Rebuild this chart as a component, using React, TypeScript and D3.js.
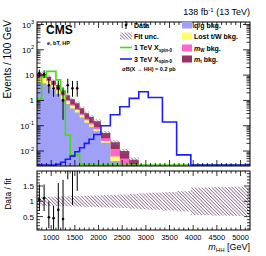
import React from 'react';
import * as d3 from 'd3';

// bin edges in GeV (variable binning, contents are events / 100 GeV)
const binEdges = [700, 800, 900, 1000, 1100, 1200, 1300, 1400, 1500, 1600, 1700, 1800, 1900, 2050, 2250, 2450, 2650, 2850, 3050, 3350, 3650, 3950, 4400, 4800, 5200];

const qgBkg = [5.0, 4.8, 3.9, 2.7, 1.85, 1.15, 0.72, 0.48, 0.33, 0.21, 0.13, 0.09, 0.06, 0.021, 0.004, 0.001, 0, 0, 0, 0, 0, 0, 0, 0];
const lostTWBkg = [3.5, 3.0, 2.0, 1.2, 0.7, 0.4, 0.22, 0.14, 0.09, 0.055, 0.035, 0.022, 0.014, 0.004, 0.002, 0.001, 0.0003, 0, 0, 0, 0, 0, 0, 0];
const mWBkg = [0.5, 0.5, 0.4, 0.3, 0.2, 0.15, 0.1, 0.07, 0.05, 0.035, 0.025, 0.018, 0.013, 0.007, 0.006, 0.003, 0.0012, 0.0006, 0.0003, 0, 0, 0, 0, 0];
const mtBkg = [3.0, 2.7, 2.4, 1.8, 1.35, 0.9, 0.56, 0.41, 0.3, 0.19, 0.12, 0.09, 0.063, 0.02, 0.01, 0.005, 0.003, 0.0014, 0.0007, 0.0003, 0, 0, 0, 0];
const fitUnc = [0.15, 0.15, 0.15, 0.15, 0.15, 0.16, 0.16, 0.17, 0.17, 0.18, 0.18, 0.19, 0.19, 0.2, 0.21, 0.22, 0.24, 0.26, 0.28, 0.3, 0.33, 0.45, 0.47, 0.48];

const sig1TeV = [1.2, 9, 14, 14, 6.5, 2.4, 0.043, 0.007, 0.007, 0.003, 0, 0, 0, 0, 0, 0, 0, 0, 0, 0, 0, 0, 0, 0];
const sig3TeV = [0, 0, 0, 0, 0.003, 0.0036, 0.0047, 0.0063, 0.0094, 0.0135, 0.02, 0.029, 0.045, 0.1, 0.27, 0.56, 1.2, 2.2, 1.3, 0.14, 0.007, 0, 0, 0];

// data points (bin centres)
const dataMass = [750, 850, 950, 1050, 1150, 1250, 1350, 1450, 1550];
const dataVal = [12, 11, 4, 3, 3, 1, 4, 3, 3];
const dataLo = [8.6, 7.7, 1.9, 1.4, 1.4, 0.17, 1.9, 1.4, 1.4];
const dataHi = [16.5, 15.4, 7.2, 5.9, 5.9, 3.3, 7.2, 5.9, 5.9];

// data / fit
const ratioVal = [1.05, 1.1, 0.48, 0.45, 0.72, 0.42, 2.5, 2.5, 2.5];
const ratioLo = [0.68, 0.68, 0.12, 0.07, 0.08, 0.08, 1.72, 0.88, 1.34];
const ratioHi = [1.55, 1.55, 1.0, 0.85, 1.6, 1.7, 3, 3, 3];

const xTicks = [1000, 1500, 2000, 2500, 3000, 3500, 4000, 4500, 5000];
const yDecades = [-2, -1, 0, 1, 2, 3];
const ratioTicks = [0.5, 1, 1.5];

const FONT = 'Liberation Sans, Arial, sans-serif';
const xL = 37, xR = 250;
const upT = 22, upB = 166;
const loT = 171, loB = 230;

const x = d3.scaleLinear().domain([700, 5200]).range([xL, xR]);
const yUp = d3.scaleLog().domain([10 ** -2.593, 10 ** 3.1]).range([upB, upT]);
const yLo = d3.scaleLinear().domain([0.062, 1.99]).range([loB, loT]);

const colQG = '#a0a0f6';
const colTW = '#ffff66';
const colMW = '#ff66cc';
const colMT = '#993366';
const colG = '#44dd11';
const colB = '#1c1cff';

const fy = (v: number) => (v > 0 ? Math.min(yUp(v), upB + 2) : upB + 2);
const ly = (v: number) => (v > 0 ? Math.min(yUp(v), upB - 1) : upB - 1);

function fillPath(vals: number[]) {
  let p = `M${x(binEdges[0])},${upB + 2}`;
  vals.forEach((v, i) => {
    p += `V${fy(v)}H${x(binEdges[i + 1])}`;
  });
  return p + `V${upB + 2}Z`;
}

function linePath(vals: number[]) {
  let p = '';
  vals.forEach((v, i) => {
    p += (i === 0 ? `M${x(binEdges[0])},${ly(v)}` : `V${ly(v)}`) + `H${x(binEdges[i + 1])}`;
  });
  return p;
}

function Ticks({ top, bottom, ratio }: { top: number; bottom: number; ratio: boolean }) {
  const lines: JSX.Element[] = [];
  const maj = ratio ? 5 : 6;
  const mi = ratio ? 2.5 : 3;
  for (let m = 800; m < 5200; m += 100) {
    const len = m % 500 === 0 ? maj : mi;
    const xx = x(m);
    lines.push(<line key={'b' + m} x1={xx} x2={xx} y1={bottom} y2={bottom - len} />);
    lines.push(<line key={'t' + m} x1={xx} x2={xx} y1={top} y2={top + len} />);
  }
  if (!ratio) {
    for (let d = -3; d <= 3; d++) {
      for (let k = 1; k <= 9; k++) {
        const v = k * 10 ** d;
        const yy = yUp(v);
        if (yy < top || yy > bottom) continue;
        const len = k === 1 ? 7 : 3.5;
        lines.push(<line key={'l' + d + k} x1={xL} x2={xL + len} y1={yy} y2={yy} />);
        lines.push(<line key={'r' + d + k} x1={xR} x2={xR - len} y1={yy} y2={yy} />);
      }
    }
  } else {
    for (let i = 1; i <= 19; i++) {
      const yy = yLo(i / 10);
      const len = i % 5 === 0 ? 6 : 3;
      lines.push(<line key={'l' + i} x1={xL} x2={xL + len} y1={yy} y2={yy} />);
      lines.push(<line key={'r' + i} x1={xR} x2={xR - len} y1={yy} y2={yy} />);
    }
  }
  return <g stroke="#000" strokeWidth={0.8}>{lines}</g>;
}

export default function App() {
  const cum1 = qgBkg;
  const cum2 = cum1.map((v, i) => v + lostTWBkg[i]);
  const cum3 = cum2.map((v, i) => v + mWBkg[i]);
  const total = cum3.map((v, i) => v + mtBkg[i]);

  return (
    <svg width={266} height={256} style={{ position: 'absolute', left: 0, top: 0, background: '#fff' }} fontFamily={FONT}>
      <defs>
        <pattern id="hatch" patternUnits="userSpaceOnUse" width={2.4} height={2.4} patternTransform="rotate(-45)">
          <line x1={0} y1={0} x2={0} y2={2.4} stroke="#85638a" strokeWidth={1.5} />
        </pattern>
        <clipPath id="clipUp">
          <rect x={xL} y={upT} width={xR - xL} height={upB - upT} />
        </clipPath>
        <clipPath id="clipLo">
          <rect x={xL} y={loT} width={xR - xL} height={loB - loT} />
        </clipPath>
      </defs>

      {/* upper pad */}
      <g clipPath="url(#clipUp)">
        <path d={fillPath(total)} fill={colMT} />
        <path d={fillPath(cum3)} fill={colMW} />
        <path d={fillPath(cum2)} fill={colTW} />
        <path d={fillPath(cum1)} fill={colQG} />
        {total.map((t, i) =>
          t > 0 ? (
            <rect
              key={i}
              x={x(binEdges[i])}
              width={x(binEdges[i + 1]) - x(binEdges[i])}
              y={fy(t * (1 + fitUnc[i]))}
              height={Math.max(0, fy(t * (1 - fitUnc[i])) - fy(t * (1 + fitUnc[i])))}
              fill="url(#hatch)"
              opacity={0.8}
            />
          ) : null
        )}
        <path d={linePath(sig1TeV)} fill="none" stroke={colG} strokeWidth={1.6} />
        <path d={linePath(sig3TeV)} fill="none" stroke={colB} strokeWidth={1.6} />
        <g stroke="#000" strokeWidth={1} fill="#000">
          {dataMass.map((m, i) => (
            <g key={m}>
              <line x1={x(m)} x2={x(m)} y1={yUp(dataHi[i])} y2={yUp(dataLo[i])} />
              <circle cx={x(m)} cy={yUp(dataVal[i])} r={1.3} stroke="none" />
            </g>
          ))}
        </g>
      </g>
      <Ticks top={upT} bottom={upB} ratio={false} />
      <rect x={xL} y={upT} width={xR - xL} height={upB - upT} fill="none" stroke="#000" strokeWidth={1} />

      {yDecades.map((d) => (
        <text key={d} x={34} y={yUp(10 ** d) + 3} fontSize={8} textAnchor="end">
          {d === 0 ? '1' : d === 1 ? '10' : (
            <>
              10<tspan dy={-3.5} fontSize={5.5}>{d}</tspan>
            </>
          )}
        </text>
      ))}
      <text transform="translate(11,20) rotate(-90)" fontSize={10} textAnchor="end">Events / 100 GeV</text>

      {/* CMS label and lumi */}
      <text x={46} y={34} fontSize={12} fontWeight="bold">CMS</text>
      <text x={47} y={45} fontSize={5.5} fontWeight="bold">e, bT, HP</text>
      <text x={250} y={15} fontSize={9} textAnchor="end">
        138 fb<tspan dy={-3.5} fontSize={6}>-1</tspan><tspan dy={3.5}> (13 TeV)</tspan>
      </text>

      {/* legend */}
      <g fontSize={7} fontWeight="bold">
        <line x1={126} x2={126} y1={21} y2={29} stroke="#000" strokeWidth={1} />
        <circle cx={126} cy={25} r={1.3} />
        <text x={134} y={27.5}>Data</text>
        <rect x={120} y={32.5} width={12} height={7} fill="url(#hatch)" />
        <text x={134} y={38.5}>Fit unc.</text>
        <line x1={120} x2={132} y1={47.5} y2={47.5} stroke={colG} strokeWidth={1.6} />
        <text x={134} y={50}>1 TeV X<tspan dy={1.5} fontSize={4.5}>spin-0</tspan></text>
        <line x1={120} x2={132} y1={59} y2={59} stroke={colB} strokeWidth={1.6} />
        <text x={134} y={61.5}>3 TeV X<tspan dy={1.5} fontSize={4.5}>spin-0</tspan></text>
        <text x={122} y={70.5} fontSize={5.5}>σB(X → HH) = 0.2 pb</text>

        <rect x={182} y={21.5} width={10} height={7} fill={colQG} />
        <text x={194} y={27.5}>q/g bkg.</text>
        <rect x={182} y={32.5} width={10} height={7} fill={colTW} />
        <text x={194} y={38.5}>Lost t/W bkg.</text>
        <rect x={182} y={44.5} width={10} height={7} fill={colMW} />
        <text x={194} y={50.5}><tspan fontStyle="italic">m</tspan><tspan dy={1.5} fontSize={4.5}>W</tspan><tspan dy={-1.5}> bkg.</tspan></text>
        <rect x={182} y={55.5} width={10} height={7} fill={colMT} />
        <text x={194} y={61.5}><tspan fontStyle="italic">m</tspan><tspan dy={1.5} fontSize={4.5}>t</tspan><tspan dy={-1.5}> bkg.</tspan></text>
      </g>

      {/* lower pad */}
      <g clipPath="url(#clipLo)">
        {fitUnc.map((u, i) => (
          <rect
            key={i}
            x={x(binEdges[i])}
            width={x(binEdges[i + 1]) - x(binEdges[i])}
            y={yLo(1 + u)}
            height={yLo(1 - u) - yLo(1 + u)}
            fill="url(#hatch)"
          />
        ))}
        <g stroke="#000" strokeWidth={1} fill="#000">
          {dataMass.map((m, i) => (
            <g key={m}>
              <line x1={x(m)} x2={x(m)} y1={yLo(ratioHi[i])} y2={yLo(ratioLo[i])} />
              <circle cx={x(m)} cy={yLo(ratioVal[i])} r={1.3} stroke="none" />
            </g>
          ))}
        </g>
      </g>
      <Ticks top={loT} bottom={loB} ratio={true} />
      <rect x={xL} y={loT} width={xR - xL} height={loB - loT} fill="none" stroke="#000" strokeWidth={1} />

      {ratioTicks.map((t) => (
        <text key={t} x={34} y={yLo(t) + 3} fontSize={8} textAnchor="end">{t}</text>
      ))}
      <text transform="translate(11,194) rotate(-90)" fontSize={8.5} textAnchor="middle">Data / fit</text>

      {xTicks.map((t) => (
        <text key={t} x={x(t)} y={240} fontSize={7.5} textAnchor="middle">{t}</text>
      ))}
      <text x={250} y={250} fontSize={9} textAnchor="end">
        <tspan fontStyle="italic">m</tspan><tspan dy={2} fontSize={6}>HH</tspan><tspan dy={-2}> [GeV]</tspan>
      </text>
    </svg>
  );
}
